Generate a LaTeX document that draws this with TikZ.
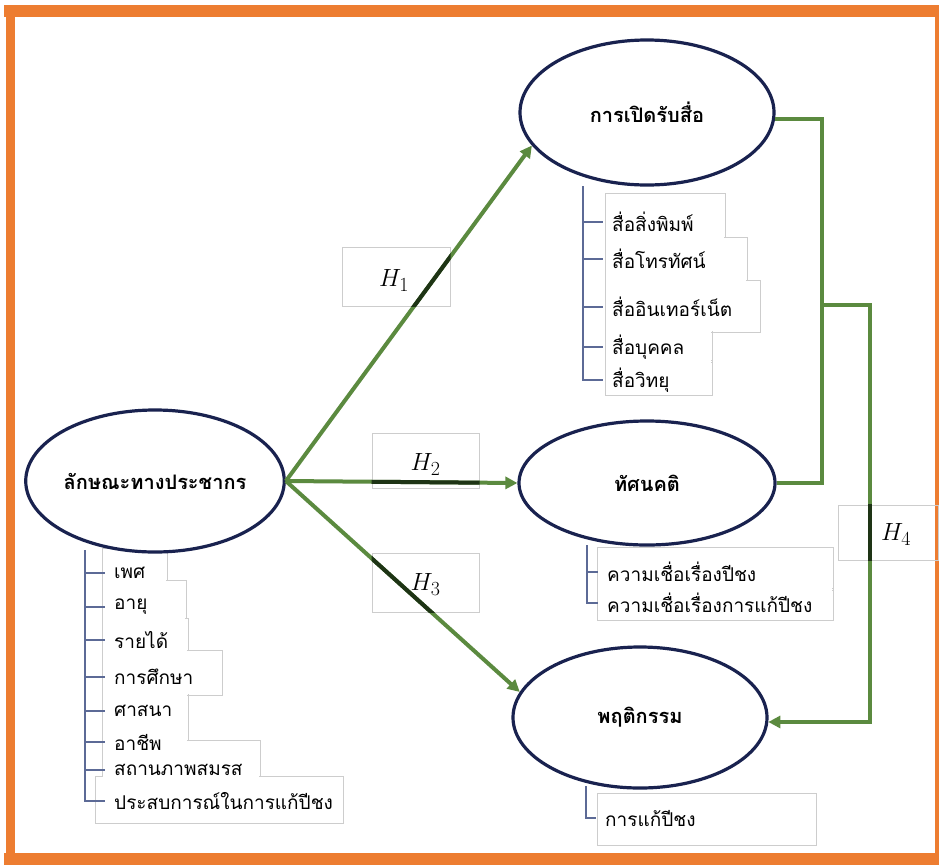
\documentclass[tikz,border=0pt]{standalone}
\usepackage{fontspec}
\newfontfamily\thai[Script=Thai]{Loma}
\usetikzlibrary{shapes.geometric,arrows.meta}
\definecolor{frameor}{HTML}{ED7D31}
\definecolor{lgreen}{HTML}{5B8A3F}
\definecolor{dgreen}{HTML}{1E3415}
\definecolor{navy}{HTML}{19224F}
\definecolor{brk}{HTML}{5C6A96}
\definecolor{boxg}{HTML}{CDCDCD}
\newcommand{\hyp}[1]{$H_{\mbox{\fontsize{20}{20}\selectfont #1}}$}
\tikzset{
  oval/.style={ellipse, draw=navy, line width=3.2pt, fill=white, inner sep=0pt,
    font=\thai\fontsize{20}{24}\selectfont\bfseries},
  conn/.style={draw=lgreen, line width=4pt},
  darkconn/.style={draw=dgreen, line width=4pt},
  arrowconn/.style={conn, -{Triangle[length=12pt,width=12pt]}},
  brkline/.style={draw=brk, line width=1.1pt},
  item/.style={anchor=west, inner xsep=9pt, inner ysep=0pt, font=\thai\fontsize{19}{22}\selectfont},
  hbox/.style={draw=boxg, line width=1pt, inner sep=0pt},
  hlabel/.style={font=\fontsize{27}{30}\selectfont},
  boxline/.style={draw=boxg, line width=1pt},
}
\begin{document}
\begin{tikzpicture}[x=1pt,y=-1pt]
\useasboundingbox (0,0) rectangle (939,865);
\fill[white] (0,0) rectangle (939,865);
% orange frame
\draw[frameor, line width=12pt] (4,11) -- (939,11);
\draw[frameor, line width=12pt] (4,859) -- (939,859);
\draw[frameor, line width=9pt] (10,5) -- (10,865);
\draw[frameor, line width=4pt] (937,5) -- (937,865);

% item boxes (union outline)
\foreach \a/\b/\c/\d in {605/193/725/240, 605/237/747/282, 605/280/760/332, 605/330/712/362, 605/360/712/395,
   102/548/167/582, 102/580/186/620, 102/618/188/652, 102/650/222/695, 102/693/188/742, 102/740/260/778, 95/776/343/823,
   597/547/833/590, 597/588/833/620, 597/793/816/845}
  {\draw[boxline] (\a,\b) rectangle (\c,\d);}
\foreach \a/\b/\c/\d in {605/193/725/240, 605/237/747/282, 605/280/760/332, 605/330/712/362, 605/360/712/395,
   102/548/167/582, 102/580/186/620, 102/618/188/652, 102/650/222/695, 102/693/188/742, 102/740/260/778, 95/776/343/823,
   597/547/833/590, 597/588/833/620, 597/793/816/845}
  {\fill[white] (\a+0.6,\b+0.6) rectangle (\c-0.6,\d-0.6);}

% label boxes
\node[hbox, minimum width=108pt, minimum height=59pt] (h1) at (396,276.5) {};
\node[hbox, minimum width=107pt, minimum height=55pt] (h2) at (425.5,460.5) {};
\node[hbox, minimum width=107pt, minimum height=59pt] (h3) at (425.5,582.5) {};
\node[hbox, minimum width=100pt, minimum height=55pt] (h4) at (888,532.5) {};

% ellipses
\node[oval, minimum width=254pt, minimum height=145pt] (media) at (647,112.5) {การเปิดรับสื่อ};
\node[oval, minimum width=254pt, minimum height=142pt] (demo) at (155,481) {ลักษณะทางประชากร};
\node[oval, minimum width=256pt, minimum height=124pt] (att) at (647,483) {ทัศนคติ};
\node[oval, minimum width=254pt, minimum height=141pt] (behav) at (640,717.5) {พฤติกรรม};

% items: media
\node[item] (m1) at (603,222) {สื่อสิ่งพิมพ์};
\node[item] (m2) at (603,259) {สื่อโทรทัศน์};
\node[item] (m3) at (603,307) {สื่ออินเทอร์เน็ต};
\node[item] (m4) at (603,347) {สื่อบุคคล};
\node[item] (m5) at (603,380) {สื่อวิทยุ};
\coordinate (mb) at (583,186);
\draw[brkline] (mb) |- (m5.west);
\foreach \n in {m1,m2,m3,m4} {\draw[brkline] (mb |- \n.west) -- (\n.west);}

% items: demographics
\node[item] (d1) at (105,573) {เพศ};
\node[item] (d2) at (105,607) {อายุ};
\node[item] (d3) at (105,640) {รายได้};
\node[item] (d4) at (105,677) {การศึกษา};
\node[item] (d5) at (105,711) {ศาสนา};
\node[item] (d6) at (105,742) {อาชีพ};
\node[item] (d7) at (105,770) {สถานภาพสมรส};
\node[item] (d8) at (105,801) {ประสบการณ์ในการแก้ปีชง};
\coordinate (db) at (85,550);
\draw[brkline] (db) |- (d8.west);
\foreach \n in {d1,d2,d3,d4,d5,d6,d7} {\draw[brkline] (db |- \n.west) -- (\n.west);}

% items: attitude
\node[item] (a1) at (598,572) {ความเชื่อเรื่องปีชง};
\node[item] (a2) at (598,603) {ความเชื่อเรื่องการแก้ปีชง};
\coordinate (ab) at (587,545);
\draw[brkline] (ab) |- (a2.west);
\draw[brkline] (ab |- a1.west) -- (a1.west);

% items: behaviour
\node[item] (b1) at (596,818) {การแก้ปีชง};
\coordinate (bb) at (586,786);
\draw[brkline] (bb) |- (b1.west);

% connectors
\draw[arrowconn] (demo.east) -- (media.196);
\draw[arrowconn] (demo.east) -- (att.west);
\draw[arrowconn] (demo.east) -- (behav.168);
\coordinate (j) at (822,305);
\coordinate (k) at (870,305);
\draw[conn] (media.-3) -| (j);
\draw[conn] (att.east) -| (j);
\draw[arrowconn] (j) -- (k) |- (behav.-2);

% darker segments inside label boxes
\begin{scope}
\clip (h1.south west) rectangle (h1.north east);
\draw[darkconn] (demo.east) -- (media.196);
\end{scope}
\begin{scope}
\clip (h2.south west) rectangle (h2.north east);
\draw[darkconn] (demo.east) -- (att.west);
\end{scope}
\begin{scope}
\clip (h3.south west) rectangle (h3.north east);
\draw[darkconn] (demo.east) -- (behav.168);
\end{scope}
\begin{scope}
\clip (h4.south west) rectangle (h4.north east);
\draw[darkconn] (k) |- (behav.-2);
\end{scope}

% hypothesis labels
\node[hlabel] at ([xshift=-2pt,yshift=-4pt]h1.center) {\hyp{1}};
\node[hlabel] at ([yshift=-4pt]h2.center) {\hyp{2}};
\node[hlabel] at ([yshift=-2pt]h3.center) {\hyp{3}};
\node[hlabel] at ([xshift=8pt,yshift=-2pt]h4.center) {\hyp{4}};
\end{tikzpicture}
\end{document}
